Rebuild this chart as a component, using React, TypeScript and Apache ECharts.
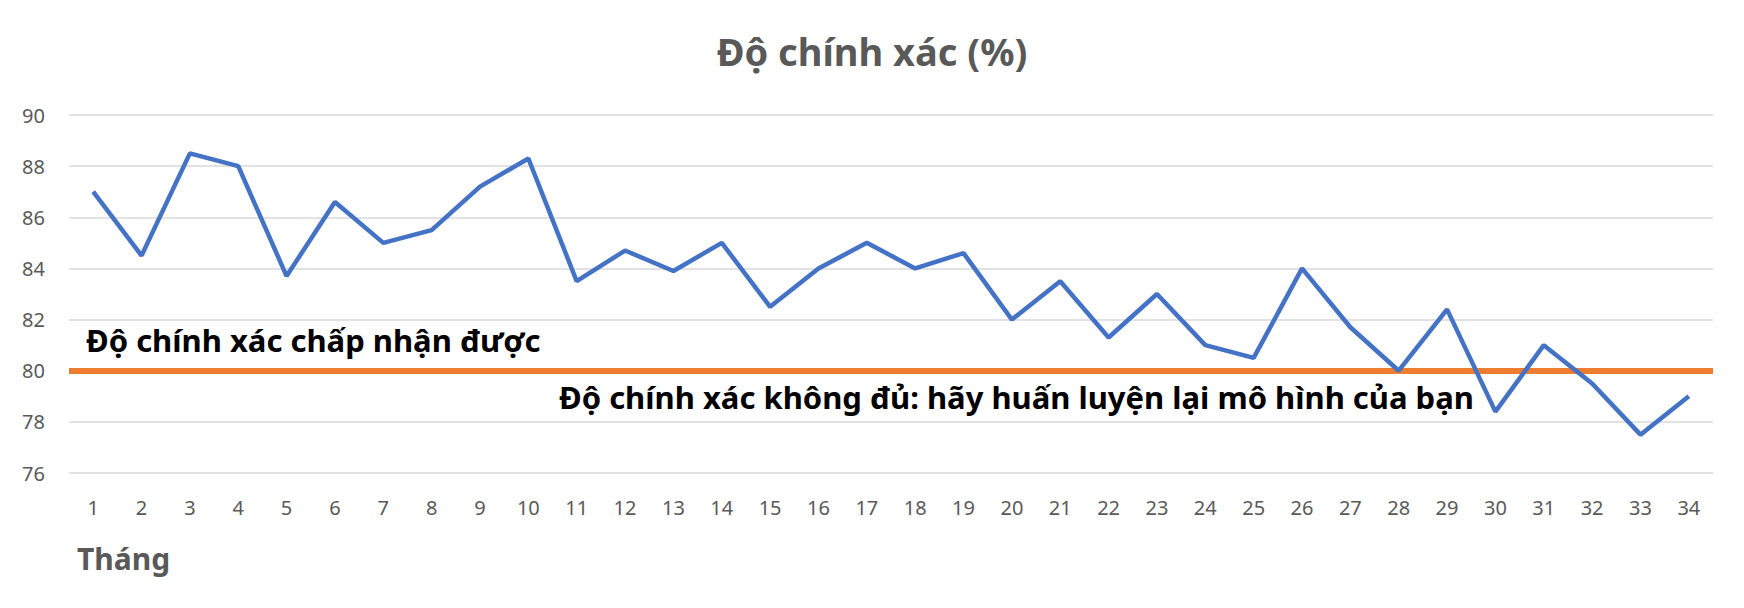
import React, { useEffect, useRef } from "react";
import * as echarts from "echarts";

const months = Array.from({ length: 34 }, (_, i) => String(i + 1));
const accuracy = [
    87.0, 84.5, 88.5, 88.0, 83.7, 86.6, 85.0, 85.5, 87.2, 88.3,
    83.5, 84.7, 83.9, 85.0, 82.5, 84.0, 85.0, 84.0, 84.6, 82.0,
    83.5, 81.3, 83.0, 81.0, 80.5, 84.0, 81.7, 80.0, 82.4, 78.4,
    81.0, 79.5, 77.5, 79.0,
];
const threshold = 80;
const yMin = 76;
const yMax = 90;
const yStep = 2;

const titleText = "Độ chính xác (%)";
const xName = "Tháng";
const okLabel = "Độ chính xác chấp nhận được";
const badLabel = "Độ chính xác không đủ: hãy huấn luyện lại mô hình của bạn";

const FONT = "'Noto Sans', 'Open Sans', sans-serif";
const GRAY = "#595959";

export default function App() {
    const chartRef = useRef<HTMLDivElement>(null);

    useEffect(() => {
        document.body.style.margin = "0";
        if (chartRef.current === null) return;
        const chart = echarts.init(chartRef.current, undefined, { renderer: "svg" });

        const option: echarts.EChartsOption = {
            animation: false,
            backgroundColor: "#ffffff",
            title: {
                text: titleText,
                left: "center",
                top: 27,
                textStyle: {
                    fontFamily: FONT,
                    fontSize: 38,
                    fontWeight: "bold",
                    color: GRAY,
                },
            },
            grid: {
                left: 69,
                right: 31,
                top: 115,
                bottom: 135,
            },
            xAxis: {
                type: "category",
                data: months,
                boundaryGap: true,
                axisLine: { show: false },
                axisTick: { show: false },
                axisLabel: {
                    color: GRAY,
                    fontFamily: FONT,
                    fontSize: 20,
                    margin: 24,
                    interval: 0,
                },
            },
            yAxis: {
                type: "value",
                min: yMin,
                max: yMax,
                interval: yStep,
                axisLine: { show: false },
                axisTick: { show: false },
                axisLabel: {
                    color: GRAY,
                    fontFamily: FONT,
                    fontSize: 20,
                    margin: 24,
                },
                splitLine: {
                    lineStyle: { color: "#d9d9d9", width: 1.5 },
                },
            },
            series: [
                {
                    type: "line",
                    data: accuracy,
                    symbol: "none",
                    lineStyle: { color: "#4472c4", width: 4.5 },
                    z: 3,
                    markLine: {
                        silent: true,
                        symbol: "none",
                        label: { show: false },
                        lineStyle: { color: "#ed7d31", width: 6, type: "solid" },
                        data: [{ yAxis: threshold }],
                        z: 2,
                    },
                },
            ],
            graphic: [
                {
                    type: "text",
                    left: 86,
                    top: 324,
                    style: {
                        text: okLabel,
                        fontFamily: FONT,
                        fontSize: 31,
                        fontWeight: "bold",
                        fill: "#000000",
                    },
                    z: 10,
                },
                {
                    type: "text",
                    left: 559,
                    top: 381,
                    style: {
                        text: badLabel,
                        fontFamily: FONT,
                        fontSize: 31,
                        fontWeight: "bold",
                        fill: "#000000",
                    },
                    z: 10,
                },
                {
                    type: "text",
                    left: 77,
                    top: 543,
                    style: {
                        text: xName,
                        fontFamily: FONT,
                        fontSize: 30,
                        fontWeight: "bold",
                        fill: GRAY,
                    },
                },
            ],
        };

        chart.setOption(option);

        return () => {
            chart.dispose();
        };
    }, []);

    return <div ref={chartRef} style={{ width: "1744px", height: "608px" }} />;
}
